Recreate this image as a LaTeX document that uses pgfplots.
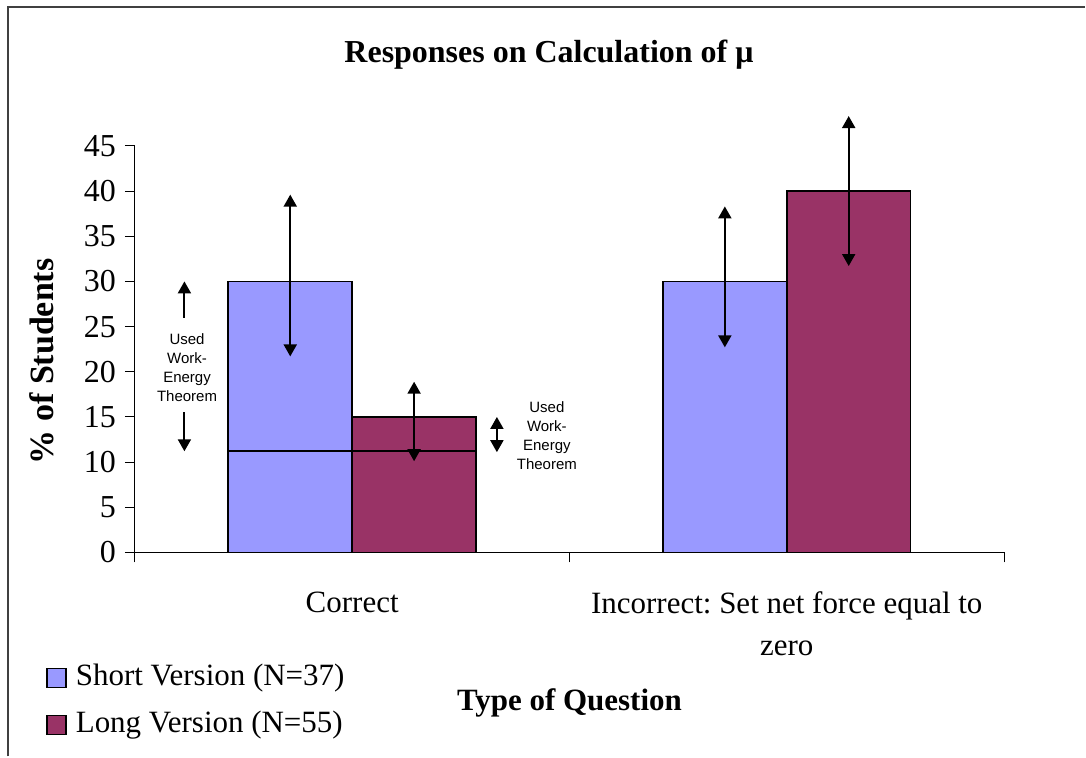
\documentclass[border=0pt]{standalone}
\usepackage{pgfplots}
\pgfplotsset{compat=1.18}
\usepackage{fontspec}
\setmainfont{Liberation Serif}
\newfontfamily\arialf{Liberation Sans}
\usetikzlibrary{arrows.meta}
\definecolor{shortc}{HTML}{9999FF}
\definecolor{longc}{HTML}{993366}
\frenchspacing
\pgfplotstableread{
x y
0 30
1 30
}\shortdata
\pgfplotstableread{
x y
0 15
1 40
}\longdata
% error arrows: x position, base value, arrow length (signed)
\pgfplotstableread{
x y v
-0.1425 30 9.6
0.8575 30 8.3
0.1425 15 3.9
1.1425 40 8.3
}\errup
\pgfplotstableread{
x y v
-0.1425 30 -8.3
0.8575 30 -7.3
0.1425 15 -4.9
1.1425 40 -8.3
}\errdown
\begin{document}
\begin{tikzpicture}
\path (0,0) rectangle (543pt,378.5pt);
\draw[line width=1pt, black!75] (4pt,0) -- (4pt,375pt) -- (543pt,375pt);
\begin{axis}[
  at={(67.5pt,102pt)}, anchor=south west,
  width=435pt, height=203.5pt, scale only axis,
  xmin=-0.5, xmax=1.5, ymin=0, ymax=45,
  clip=false,
  axis x line*=bottom, axis y line*=left,
  axis line style={-, line width=0.5pt},
  ytick={0,5,...,45},
  xtick={-0.5,0.5,1.5},
  xticklabels={},
  extra x ticks={0,1},
  extra x tick labels={Correct, {Incorrect: Set net force equal to\\zero}},
  extra x tick style={major tick length=0pt, tick style={draw=none}},
  tick align=outside,
  major tick length=5pt,
  tick style={black, line width=0.5pt},
  /pgf/number format/assume math mode=true,
  yticklabel style={font=\fontsize{16}{19}\selectfont, xshift=-1pt},
  xticklabel style={font=\fontsize{15.5}{21}\selectfont, align=center, yshift=-16pt},
  title={Responses on Calculation of μ},
  title style={font=\bfseries\fontsize{16}{19}\selectfont, at={(axis description cs:0.4764,1.194)}, anchor=center},
  xlabel={Type of Question},
  xlabel style={font=\bfseries\fontsize{15.5}{19}\selectfont, at={(axis description cs:0.5,-0.371)}, anchor=center},
  ylabel={\% of Students},
  ylabel style={font=\bfseries\fontsize{17}{19}\selectfont, at={(axis description cs:-0.107,0.47)}, anchor=center},
  legend style={draw=none, fill=none, at={(axis description cs:-0.1023,-0.273)}, anchor=north west, inner sep=0pt,
    nodes={inner sep=0pt, text height=11pt, text depth=3.5pt, font=\fontsize{15.5}{19}\selectfont},
    row sep=9pt},
  legend cell align=left,
  /tikz/every odd column/.style={column sep=4.5pt},
  legend image code/.code={\draw[#1, draw=black, line width=0.75pt] (0pt,-4.5pt) rectangle (9.5pt,5pt);},
]
\addplot[ybar, bar width=62pt, bar shift=-31pt, fill=shortc, draw=black, line width=0.8pt]
  table[x=x, y=y] {\shortdata};
\addlegendentry{Short Version (N=37)}
\addplot[ybar, bar width=62pt, bar shift=31pt, fill=longc, draw=black, line width=0.8pt]
  table[x=x, y=y] {\longdata};
\addlegendentry{Long Version (N=55)}
\addplot[forget plot, black, line width=1pt, mark=none, -{Triangle[length=6pt,width=6.5pt]},
  quiver={u=0, v=\thisrow{v}}] table[x=x, y=y] {\errup};
\addplot[forget plot, black, line width=1pt, mark=none, -{Triangle[length=6pt,width=6.5pt]},
  quiver={u=0, v=\thisrow{v}}] table[x=x, y=y] {\errdown};
\addplot[black, line width=1pt, forget plot] coordinates {(-0.285,11.2) (0.285,11.2)};
\draw[-{Triangle[length=6pt,width=6.5pt]}, line width=1pt] (axis cs:-0.386,26) -- (axis cs:-0.386,30);
\draw[-{Triangle[length=6pt,width=6.5pt]}, line width=1pt] (axis cs:-0.386,15.5) -- (axis cs:-0.386,11.2);
\node[font=\arialf\fontsize{7.5}{9.5}\selectfont, align=center] at (axis cs:-0.38,20.5) {Used\\Work-\\Energy\\Theorem};
\draw[{Triangle[length=6pt,width=6.5pt]}-{Triangle[length=6pt,width=6.5pt]}, line width=1pt] (axis cs:0.333,15) -- (axis cs:0.333,11.1);
\node[font=\arialf\fontsize{7.5}{9.5}\selectfont, align=center] at (axis cs:0.448,12.9) {Used\\Work-\\Energy\\Theorem};
\end{axis}
\end{tikzpicture}
\end{document}
